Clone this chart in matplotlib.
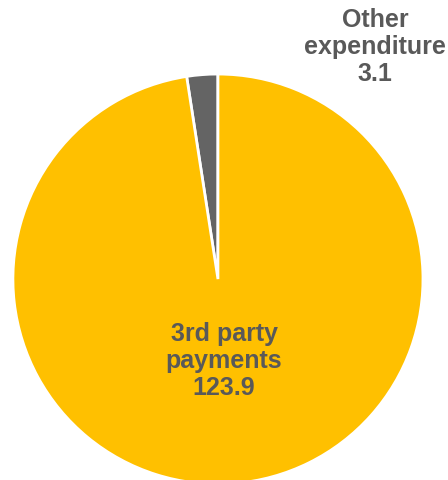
import matplotlib.pyplot as plt

# Dados do gráfico
categorias = ['Other\nexpenditure', '3rd party\npayments']
valores = [3.1, 123.9]
cores = ['#646464', '#FFC000']


def main():
    plt.rcParams['font.family'] = ['Liberation Sans', 'DejaVu Sans']
    fig = plt.figure(figsize=(4.48, 4.81), dpi=100)
    ax = fig.add_axes([0, 0, 1, 1])

    ax.pie(valores, colors=cores, startangle=90, counterclock=True,
           radius=1, wedgeprops={'edgecolor': 'white', 'linewidth': 2})

    # Rótulos
    ax.text(0.766, 1.137, f'{categorias[0]}\n{valores[0]}', ha='center', va='center',
            fontsize=18, fontweight='bold', color='#595959', linespacing=1.18)
    ax.text(0.03, -0.395, f'{categorias[1]}\n{valores[1]}', ha='center', va='center',
            fontsize=18, fontweight='bold', color='#595959', linespacing=1.18)

    ax.set_xlim(-1.063, 1.122)
    ax.set_ylim(-0.980, 1.366)
    ax.set_aspect('auto')
    ax.axis('off')

    fig.savefig('out.png', dpi=100)


if __name__ == "__main__":
    main()
